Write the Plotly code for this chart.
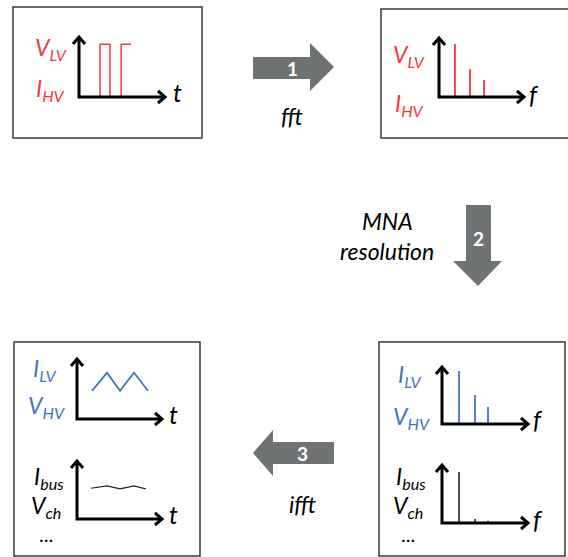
import plotly.graph_objects as go

W, H = 568, 557

# ---------------- data (normalised units: x in [0,10], y in [0,1]) ----------------
pulse_t = [2.45, 2.45, 3.6, 3.6, 4.9, 4.9, 6.05]
pulse_v = [0, 0.88, 0.88, 0, 0, 0.88, 0.88]

spec_in_f = [1.88, 3.65, 5.3]
spec_in_a = [0.90, 0.47, 0.29]

tri_t = [1.76, 3.53, 5.06, 6.7, 8.35]
tri_v = [0.47, 0.77, 0.47, 0.77, 0.47]

bus_t = [1.65, 3.53, 5.06, 6.7, 8.1]
bus_v = [0.53, 0.57, 0.52, 0.57, 0.52]

spec_out_f = [1.98, 3.84, 5.35]
spec_out_a = [0.93, 0.51, 0.30]

spec_bus_f = [1.98, 3.84, 5.35]
spec_bus_a = [0.88, 0.07, 0.04]

RED = "#f23b3d"
BLUE = "#4472c4"
GRAY = "#6f7373"
FONT = "Lato"

fig = go.Figure()

# main pixel axis
fig.update_layout(
    xaxis=dict(range=[0, W], domain=[0, 1], visible=False, fixedrange=True),
    yaxis=dict(range=[H, 0], domain=[0, 1], visible=False, fixedrange=True),
)
fig.add_trace(go.Scatter(x=[0], y=[0], mode="markers", marker=dict(opacity=0),
                         showlegend=False, hoverinfo="skip", xaxis="x", yaxis="y"))

shapes = []
annotations = []

# frames
for (x0, y0, x1, y1) in [(13, 7, 202, 138), (381, 9, 570, 138),
                         (14, 342, 200, 556), (379, 342, 565, 556)]:
    shapes.append(dict(type="rect", xref="x", yref="y", x0=x0, y0=y0, x1=x1, y1=y1,
                       line=dict(color="#3a3a3a", width=1.5), layer="below"))

# mini plots: (origin x, origin y, x length, y length)
minis = [
    (79, 97, 86, 60),
    (439, 97, 85, 59),
    (77, 419, 85, 60),
    (77, 519, 85, 58),
    (442, 424, 86, 57),
    (442, 523, 86, 58),
]

for i, (ox, oy, lx, ly) in enumerate(minis):
    n = i + 2
    fig.layout[f"xaxis{n}"] = dict(domain=[ox / W, (ox + lx) / W], range=[0, 10],
                                    visible=False, fixedrange=True, anchor=f"y{n}")
    fig.layout[f"yaxis{n}"] = dict(domain=[1 - oy / H, 1 - (oy - ly) / H], range=[0, 1],
                                    visible=False, fixedrange=True, anchor=f"x{n}")
    a = 7
    shapes.append(dict(type="path", xref="x", yref="y",
                       path=f"M {ox},{oy-ly} L {ox},{oy} L {ox+lx},{oy}",
                       line=dict(color="black", width=3)))
    shapes.append(dict(type="path", xref="x", yref="y",
                       path=f"M {ox-a+1},{oy-ly+a} L {ox},{oy-ly} L {ox+a-1},{oy-ly+a}",
                       line=dict(color="black", width=3)))
    shapes.append(dict(type="path", xref="x", yref="y",
                       path=f"M {ox+lx-a},{oy-a+1} L {ox+lx},{oy} L {ox+lx-a},{oy+a-1}",
                       line=dict(color="black", width=3)))


def stems(f, a):
    xs, ys = [], []
    for fi, ai in zip(f, a):
        xs += [fi, fi, None]
        ys += [0, ai, None]
    return xs, ys


def add(x, y, n, color, width):
    fig.add_trace(go.Scatter(x=x, y=y, mode="lines", line=dict(color=color, width=width),
                             xaxis=f"x{n}", yaxis=f"y{n}", showlegend=False,
                             hoverinfo="skip", cliponaxis=False))


add(pulse_t, pulse_v, 2, RED, 1.5)
xs, ys = stems(spec_in_f, spec_in_a)
add(xs, ys, 3, RED, 1.8)
add(tri_t, tri_v, 4, BLUE, 1.8)
add(bus_t, bus_v, 5, "#222222", 1.2)
xs, ys = stems(spec_out_f, spec_out_a)
add(xs, ys, 6, BLUE, 1.8)
xs, ys = stems(spec_bus_f, spec_bus_a)
add(xs, ys, 7, "#111111", 1.5)

# block arrows
shapes.append(dict(type="path", xref="x", yref="y", fillcolor=GRAY, line=dict(width=0),
                   path="M 253,57 L 310,57 L 310,43 L 334,67 L 310,91 L 310,79 L 253,79 Z"))
shapes.append(dict(type="path", xref="x", yref="y", fillcolor=GRAY, line=dict(width=0),
                   path="M 466,205 L 491,205 L 491,261 L 502,261 L 478,286 L 453,261 L 466,261 Z"))
shapes.append(dict(type="path", xref="x", yref="y", fillcolor=GRAY, line=dict(width=0),
                   path="M 334,442 L 334,464 L 273,464 L 273,476 L 253,453 L 273,430 L 273,442 Z"))


def txt(x, y, s, size=18, color="black", italic=True, bold=False, xanchor="center"):
    annotations.append(dict(x=x, y=y, xref="x", yref="y", text=s, showarrow=False,
                            xanchor=xanchor, yanchor="middle",
                            font=dict(family=FONT, size=size, color=color,
                                      style="italic" if italic else "normal",
                                      weight="bold" if bold else "normal")))


txt(292, 68, "1", 19, "white", italic=False, bold=True)
txt(478, 238, "2", 19, "white", italic=False, bold=True)
txt(302, 453, "3", 19, "white", italic=False, bold=True)

txt(292, 116, "fft", 23)
txt(387, 221, "MNA", 23)
txt(387, 251, "resolution", 23)
txt(302, 504, "ifft", 23)

# axis variable labels
txt(177, 92, "t", 25)
txt(534, 94, "f", 25)
txt(173, 414, "t", 25)
txt(173, 514, "t", 25)
txt(538, 419, "f", 25)
txt(538, 519, "f", 25)

sub = lambda a, b: f"{a}<sub>{b}</sub>"
LS = 23
txt(51, 48, sub("V", "LV"), LS, RED)
txt(50, 89, sub("I", "HV"), LS, RED)
txt(409, 55, sub("V", "LV"), LS, RED)
txt(409, 104, sub("I", "HV"), LS, RED)

txt(44, 369, sub("I", "LV"), LS, BLUE)
txt(46, 406, sub("V", "HV"), LS, BLUE)
txt(49, 477, sub("I", "bus"), LS)
txt(46, 506, sub("V", "ch"), LS)
txt(46, 534, "...", 20, italic=False)

txt(409, 375, sub("I", "LV"), LS, BLUE)
txt(411, 417, sub("V", "HV"), LS, BLUE)
txt(411, 477, sub("I", "bus"), LS)
txt(408, 506, sub("V", "ch"), LS)
txt(408, 534, "...", 20, italic=False)

fig.update_layout(width=W, height=H, margin=dict(l=0, r=0, t=0, b=0),
                  paper_bgcolor="white", plot_bgcolor="rgba(0,0,0,0)",
                  shapes=shapes, annotations=annotations, showlegend=False)

fig.write_html("out.html", config={"displayModeBar": False},
               post_script="document.body.style.margin='0px';document.body.style.overflow='hidden';")
